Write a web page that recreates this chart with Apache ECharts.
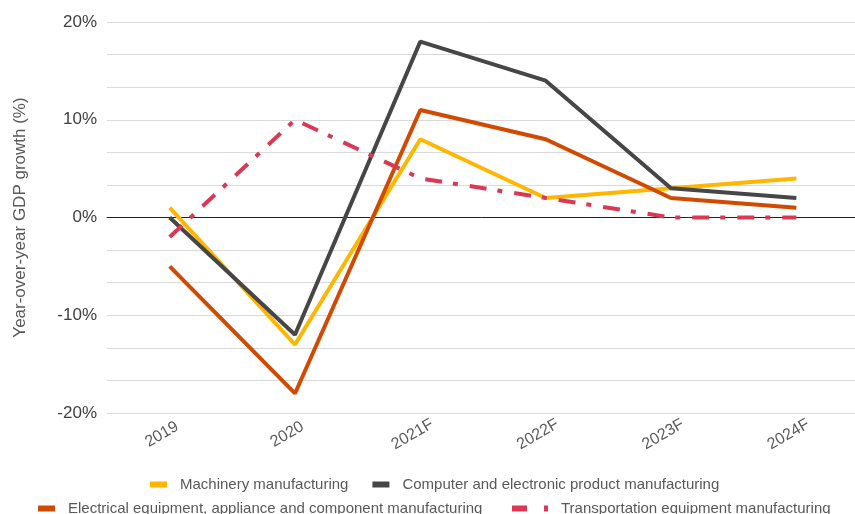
<!DOCTYPE html>
<html>
<head>
<meta charset="utf-8">
<script src="https://cdn.jsdelivr.net/npm/echarts@6/dist/echarts.min.js"></script>
<style>
  html, body { margin: 0; padding: 0; background: #fff; }
  #main { width: 855px; height: 514px; }
</style>
</head>
<body>
<div id="main"></div>
<script>
// 数据
const years = ['2019', '2020', '2021F', '2022F', '2023F', '2024F'];
const machinery = [1, -13, 8, 2, 3, 4];
const computer = [0, -12, 18, 14, 3, 2];
const electrical = [-5, -18, 11, 8, 2, 1];
const transportation = [-2, 10, 4, 2, 0, 0];

const names = [
  'Machinery manufacturing',
  'Computer and electronic product manufacturing',
  'Electrical equipment, appliance and component manufacturing',
  'Transportation equipment manufacturing'
];

var myChart = echarts.init(document.getElementById('main'));

const legendText = {
  color: '#595959',
  fontSize: 15,
  fontFamily: 'Liberation Sans, Arial, sans-serif',
  padding: [0, 0, 0, 8]
};

var option = {
  animation: false,
  textStyle: { fontFamily: 'Liberation Sans, Arial, sans-serif' },
  grid: { left: 107, top: 22, height: 391, width: 752, outerBoundsMode: 'none' },
  legend: [
    {
      data: [names[0], names[1]],
      left: 145, top: 472,
      icon: 'rect', itemWidth: 17, itemHeight: 6, itemGap: 24,
      itemStyle: { borderWidth: 0 },
      textStyle: legendText
    },
    {
      data: [names[2]],
      left: 33, top: 496,
      icon: 'rect', itemWidth: 17, itemHeight: 6,
      itemStyle: { borderWidth: 0 },
      textStyle: legendText
    },
    {
      data: [names[3]],
      left: 507, top: 496,
      icon: 'path://M0,0H15V6H0Z M32,0H36V6H32Z', itemWidth: 36, itemHeight: 6,
      itemStyle: { borderWidth: 0 },
      textStyle: legendText
    }
  ],
  xAxis: {
    type: 'category',
    data: years,
    boundaryGap: true,
    axisLine: { onZero: true, lineStyle: { color: '#222', width: 1 } },
    axisTick: { show: false },
    axisLabel: {
      rotate: 30, margin: 17, fontSize: 16, color: '#595959',
      align: 'center', verticalAlign: 'middle', padding: [0, 18, 0, 0]
    }
  },
  yAxis: {
    type: 'value',
    min: -20, max: 20, interval: 10,
    name: 'Year-over-year GDP growth (%)',
    nameLocation: 'middle',
    nameGap: 78,
    nameTextStyle: { fontSize: 17, color: '#595959' },
    axisLine: { show: false },
    axisTick: { show: false },
    axisLabel: { formatter: '{value}%', fontSize: 17, color: '#404040', margin: 10 },
    splitLine: { lineStyle: { color: '#d9d9d9', width: 1 } },
    minorTick: { show: false, splitNumber: 3 },
    minorSplitLine: { show: true, lineStyle: { color: '#d9d9d9', width: 1 } }
  },
  series: [
    { name: names[0], type: 'line', data: machinery, symbol: 'none', color: '#FFB600', lineStyle: { width: 4 } },
    { name: names[1], type: 'line', data: computer, symbol: 'none', color: '#464646', lineStyle: { width: 4 } },
    { name: names[2], type: 'line', data: electrical, symbol: 'none', color: '#D04A02', lineStyle: { width: 4 } },
    { name: names[3], type: 'line', data: transportation, symbol: 'none', color: '#D93954', z: 3,
      lineStyle: { width: 4, type: [17, 11, 5, 12] } }
  ]
};

myChart.setOption(option);
</script>
</body>
</html>
